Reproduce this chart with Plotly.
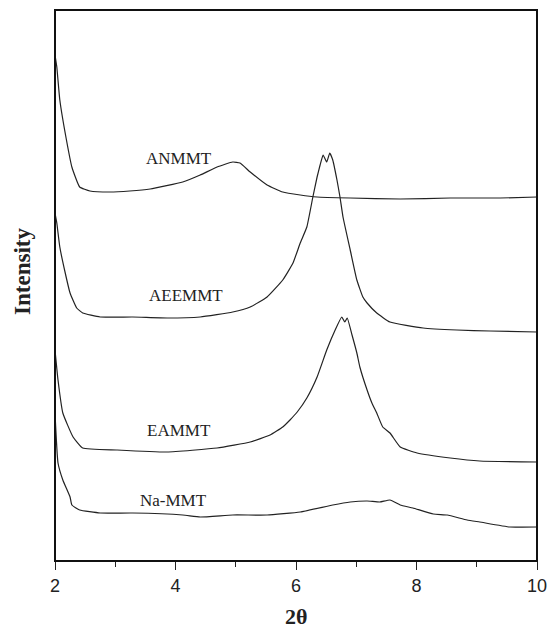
import plotly.graph_objects as go

# Data (2-theta in degrees, intensity in arbitrary offset units)
anmmt_x = [2.00, 2.03, 2.08, 2.19, 2.28, 2.41, 2.58, 2.91, 3.24, 3.58, 4.12, 4.41, 4.69, 4.95, 5.07,
           5.24, 5.52, 5.78, 6.07, 6.35, 6.90, 7.73, 8.56, 9.39, 10.0]
anmmt_y = [506, 494, 461, 421, 394, 374, 370, 369, 370, 372, 379, 386, 394, 399, 398,
           389, 376, 369, 366, 364, 363, 362, 363, 363, 364]

aeemmt_x = [2.00, 2.03, 2.08, 2.17, 2.25, 2.36, 2.46, 2.75, 3.29, 3.86, 4.41, 4.95, 5.24, 5.52, 5.78,
            5.95, 6.07, 6.18, 6.28, 6.35, 6.40, 6.45, 6.51, 6.56, 6.61, 6.68, 6.73, 6.78, 6.90, 7.01,
            7.11, 7.18, 7.34, 7.56, 8.11, 8.67, 9.22, 10.0]
aeemmt_y = [348, 338, 314, 288, 268, 253, 248, 244, 244, 243, 244, 249, 254, 264, 281,
            298, 318, 334, 364, 384, 396, 406, 399, 408, 401, 381, 364, 344, 311, 281,
            264, 258, 248, 239, 233, 231, 230, 229]

eammt_x = [2.00, 2.05, 2.13, 2.30, 2.46, 3.03, 3.86, 4.69, 5.24, 5.57, 5.78, 5.90, 6.02, 6.18, 6.35,
           6.51, 6.65, 6.76, 6.81, 6.85, 6.93, 7.01, 7.06, 7.18, 7.26, 7.34, 7.44, 7.56, 7.73, 8.01,
           8.56, 9.05, 10.0]
eammt_y = [211, 181, 148, 124, 113, 111, 109, 113, 119, 126, 134, 141, 149, 163, 184,
           211, 231, 244, 239, 243, 226, 208, 194, 171, 158, 148, 134, 128, 114, 108,
           103, 100, 99]

namt_x = [2.00, 2.05, 2.13, 2.25, 2.28, 2.41, 2.75, 3.29, 4.12, 4.41, 4.95, 5.52, 6.07, 6.61, 6.90,
          7.18, 7.39, 7.56, 7.73, 7.94, 8.28, 8.51, 8.84, 9.05, 9.55, 10.0]
namt_y = [148, 98, 81, 64, 56, 51, 48, 48, 46, 44, 46, 46, 49, 56, 59,
          60, 59, 61, 56, 53, 47, 46, 41, 39, 34, 34]

labels = ["ANMMT", "AEEMMT", "EAMMT", "Na-MMT"]
label_x = [4.06, 4.17, 4.06, 3.96]
label_y = [403, 266, 131, 61]

x_ticks = [2, 4, 6, 8, 10]

series = [(anmmt_x, anmmt_y), (aeemmt_x, aeemmt_y), (eammt_x, eammt_y), (namt_x, namt_y)]

fig = go.Figure()
for (xs, ys), name in zip(series, labels):
    fig.add_trace(go.Scatter(x=xs, y=ys, mode="lines", name=name,
                             line=dict(color="#222222", width=1.2, shape="spline", smoothing=0.4),
                             showlegend=False, hoverinfo="skip"))

for t, lx, ly in zip(labels, label_x, label_y):
    fig.add_annotation(x=lx, y=ly, text=t, showarrow=False,
                       font=dict(family="Liberation Serif", size=17, color="#222222"))

# Axis titles as paper-positioned annotations
fig.add_annotation(x=0.5, xref="paper", y=-0.1, yref="paper", yanchor="middle",
                   text="<b>2θ</b>", showarrow=False,
                   font=dict(family="Liberation Serif", size=22, color="#222222"))
fig.add_annotation(x=-0.066, xref="paper", y=0.525, yref="paper", xanchor="center",
                   text="<b>Intensity</b>", textangle=-90, showarrow=False,
                   font=dict(family="Liberation Serif", size=23, color="#222222"))

# Frame around the plotting area
fig.add_shape(type="rect", xref="paper", yref="paper", x0=0, y0=0, x1=1, y1=1,
              line=dict(color="#111111", width=2), layer="above")

fig.update_layout(
    width=548, height=632,
    margin=dict(l=55, r=11, t=10, b=71),
    paper_bgcolor="white", plot_bgcolor="white",
    xaxis=dict(range=[2, 10], tickvals=x_ticks, ticktext=[str(v) for v in x_ticks],
               ticks="outside", ticklen=8, tickwidth=1.2, tickcolor="#222222",
               minor=dict(dtick=1, ticks="outside", ticklen=5, tickcolor="#222222"),
               showline=True, linecolor="#222222", linewidth=1.3, mirror=True,
               showgrid=False, zeroline=False, automargin=False,
               tickfont=dict(family="Liberation Sans", size=18, color="#222222")),
    yaxis=dict(range=[0, 551], showticklabels=False, ticks="",
               showline=True, linecolor="#222222", linewidth=1.3, mirror=True,
               showgrid=False, zeroline=False, automargin=False),
)

fig.write_html("out.html", config={"displayModeBar": False},
               post_script="document.body.style.margin='0';document.body.style.overflow='hidden';")
